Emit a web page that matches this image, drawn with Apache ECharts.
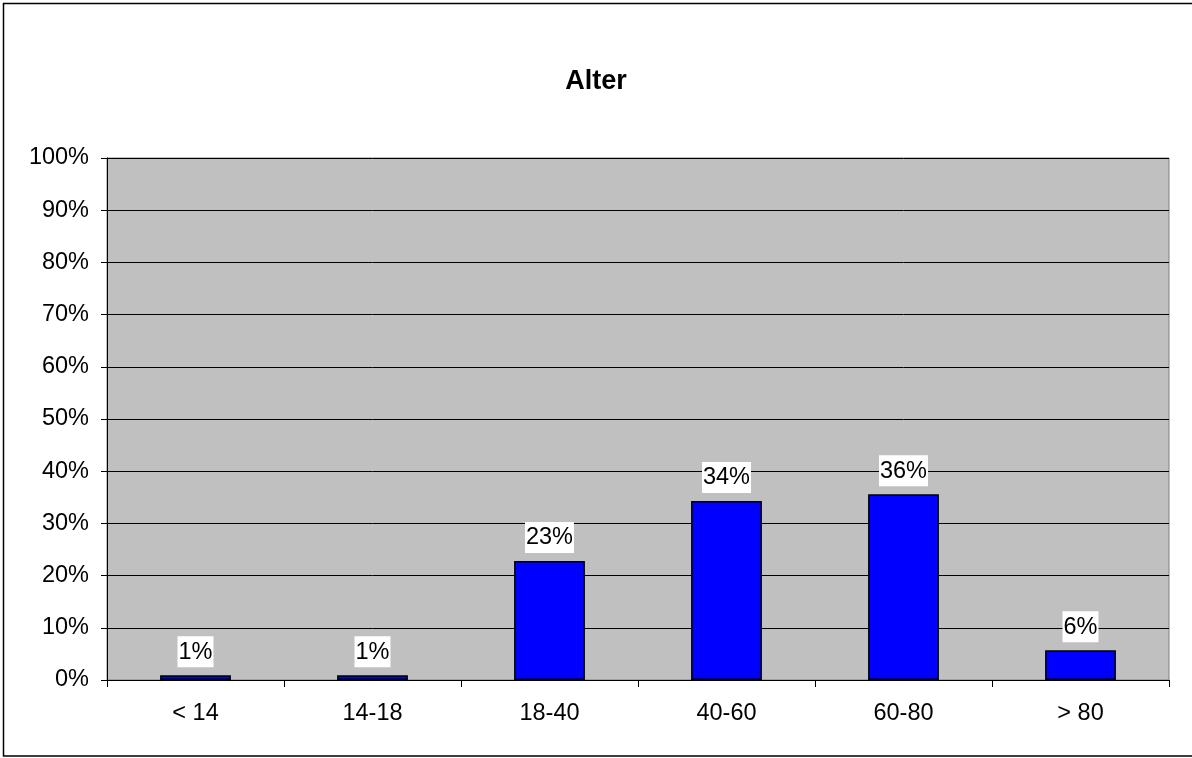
<!DOCTYPE html>
<html><head><meta charset="utf-8">
<script src="https://cdn.jsdelivr.net/npm/echarts@6/dist/echarts.min.js"></script>
<style>html,body{margin:0;padding:0;background:#fff}#c{width:1192px;height:758px}</style>
</head><body><div id="c"></div>
<script>
const categories = ['< 14', '14-18', '18-40', '40-60', '60-80', '> 80'];
const values = [0.9, 0.9, 22.8, 34.3, 35.6, 5.7];
const labels = ['1%', '1%', '23%', '34%', '36%', '6%'];
const yTicks = [0, 10, 20, 30, 40, 50, 60, 70, 80, 90, 100];

const chart = echarts.init(document.getElementById('c'), null, {renderer: 'canvas'});
const F = 'Arial, "Liberation Sans", sans-serif';
chart.setOption({
  animation: false,
  backgroundColor: '#fff',
  title: {text: 'Alter', left: 'center', top: 63, textStyle: {fontFamily: F, fontSize: 27, fontWeight: 'bold', color: '#000'}},
  graphic: [{type: 'rect', shape: {x: 3.5, y: 3.5, width: 1192, height: 752.5}, style: {fill: 'none', stroke: '#000', lineWidth: 1.5}, silent: true}],
  grid: {left: 107, right: 23, top: 158, bottom: 78, show: true, backgroundColor: '#c0c0c0', borderColor: '#808080', borderWidth: 1},
  xAxis: {
    type: 'category', data: categories,
    axisLine: {lineStyle: {color: '#000', width: 1}},
    axisTick: {show: true, length: 7, lineStyle: {color: '#000'}},
    axisLabel: {fontFamily: F, fontSize: 23.5, color: '#000', margin: 22}
  },
  yAxis: {
    type: 'value', min: 0, max: 100, interval: 10,
    axisLine: {show: true, lineStyle: {color: '#000', width: 1}},
    axisTick: {show: true, length: 6, lineStyle: {color: '#000'}},
    axisLabel: {fontFamily: F, fontSize: 23.5, color: '#000', margin: 18, formatter: v => yTicks.includes(v) ? v + '%' : ''},
    splitLine: {lineStyle: {color: '#000', width: 1}}
  },
  series: [{
    type: 'bar', data: values, barCategoryGap: '60%',
    itemStyle: {color: '#0000ff', borderColor: '#000', borderWidth: 1.5},
    label: {show: true, position: 'top', distance: 8, formatter: p => labels[p.dataIndex],
      fontFamily: F, fontSize: 23.5, lineHeight: 24, color: '#000', backgroundColor: '#fff', padding: [4, 1, 3, 1]}
  }]
});
</script></body></html>
